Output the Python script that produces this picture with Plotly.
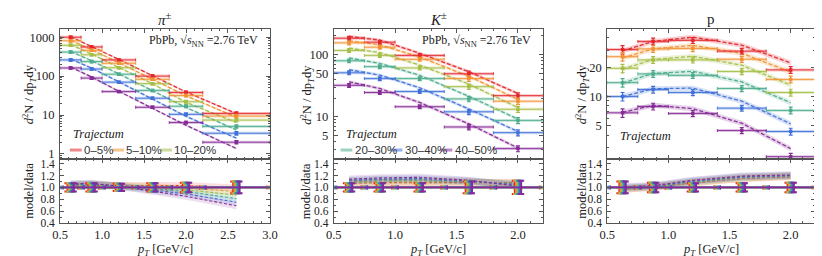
import plotly.graph_objects as go

W, H = 822, 256
SERIF = "Liberation Serif"
SANS = "Liberation Sans"
FRAME = "#555555"
TXT = "#222222"

# ---------------- data ----------------
centralities = ["0–5%", "5–10%", "10–20%", "20–30%", "30–40%", "40–50%"]
cent_colors = ["#e3262c", "#f09232", "#a4be46", "#4cac8c", "#3e70d8", "#862a96"]

pion_bins = [0.5, 0.75, 1.0, 1.4, 1.8, 2.2, 3.0]
pion_yields = [
    [1000, 562, 261, 100, 38.0, 11.0],
    [808, 461, 214, 83, 31.6, 9.4],
    [620, 354, 164, 64, 22.0, 7.4],
    [414, 236, 112, 43, 16.8, 5.1],
    [261, 152, 70, 27, 10.4, 3.4],
    [162, 89, 40, 15.8, 6.4, 2.0],
]
pion_ratio = [
    [1.03, 1.04, 1.03, 1.03, 1.03, 0.99],
    [1.03, 1.04, 1.03, 1.01, 0.99, 0.93],
    [1.04, 1.05, 1.02, 1.00, 0.96, 0.87],
    [1.04, 1.05, 1.02, 0.98, 0.93, 0.81],
    [1.05, 1.06, 1.02, 0.96, 0.89, 0.75],
    [1.06, 1.07, 1.02, 0.94, 0.85, 0.69],
]
pion_rel_err = [0.07, 0.07, 0.06, 0.07, 0.08, 0.10]

kaon_bins = [0.5, 0.75, 1.0, 1.4, 1.8, 2.2]
kaon_yields = [
    [184, 159, 97.5, 49.4, 22.0],
    [155, 132, 84.5, 41.3, 17.9],
    [117, 97.5, 61.3, 30.7, 13.3],
    [79.8, 64.3, 41.3, 19.5, 8.8],
    [51.2, 41.3, 25.6, 12.1, 5.6],
    [32.2, 24.7, 14.6, 6.9, 3.1],
]
kaon_ratio = [
    [1.07, 1.08, 1.08, 1.08, 1.08],
    [1.08, 1.09, 1.09, 1.09, 1.07],
    [1.09, 1.11, 1.11, 1.10, 1.06],
    [1.11, 1.13, 1.13, 1.10, 1.05],
    [1.12, 1.14, 1.15, 1.11, 1.04],
    [1.14, 1.16, 1.17, 1.12, 1.02],
]
kaon_rel_err = [0.07, 0.07, 0.07, 0.10, 0.11]

proton_bins = [0.5, 0.75, 1.0, 1.4, 1.8, 2.2]
proton_yields = [
    [30.4, 36.9, 37.8, 29.3, 18.8],
    [25.7, 30.9, 31.1, 24.2, 15.0],
    [19.5, 23.8, 23.8, 18.1, 11.0],
    [13.9, 17.1, 16.5, 12.1, 7.2],
    [10.0, 11.8, 11.0, 7.6, 4.37],
    [6.8, 7.9, 6.7, 4.47, 2.41],
]
proton_ratio = [
    [0.97, 1.00, 1.08, 1.15, 1.18],
    [0.97, 1.00, 1.08, 1.15, 1.19],
    [0.98, 1.01, 1.09, 1.16, 1.19],
    [0.99, 1.01, 1.10, 1.17, 1.20],
    [1.00, 1.02, 1.11, 1.18, 1.20],
    [1.01, 1.03, 1.12, 1.19, 1.21],
]
proton_rel_err = [0.10, 0.08, 0.07, 0.07, 0.08]

model_rel_band = 0.06

pion_yticks = [1, 10, 100, 1000]
kaon_yticks = [5, 10, 50, 100]
proton_yticks = [5, 10, 20]
ratio_yticks = [0.4, 0.6, 0.8, 1.0, 1.2, 1.4]


# ---------------- helpers ----------------
def rgba(hx, a):
    hx = hx.lstrip("#")
    r, g, b = int(hx[0:2], 16), int(hx[2:4], 16), int(hx[4:6], 16)
    return f"rgba({r},{g},{b},{a})"


def px_x(p):
    return p / W


def px_y(p):
    return 1 - p / H


MAIN_Y = (21, 154)
RATIO_Y = (154, 220)

panels = [
    dict(bins=pion_bins, yields=pion_yields, ratio=pion_ratio, err=pion_rel_err,
         xpx=(45, 259), xr=[0.5, 3.0], yr=[-0.125, 3.2], ytv=pion_yticks,
         title="<i>π</i><sup>±</sup>", ytitle_x=13),
    dict(bins=kaon_bins, yields=kaon_yields, ratio=kaon_ratio, err=kaon_rel_err,
         xpx=(324, 537), xr=[0.5, 2.2], yr=[0.328, 2.406], ytv=kaon_yticks,
         title="<i>K</i><sup>±</sup>", ytitle_x=296),
    dict(bins=proton_bins, yields=proton_yields, ratio=proton_ratio, err=proton_rel_err,
         xpx=(603, 815), xr=[0.5, 2.2], yr=[0.36, 1.69], ytv=proton_yticks,
         title="p", ytitle_x=577),
]

fig = go.Figure()
layout = dict(
    width=W, height=H, margin=dict(l=0, r=0, t=0, b=0),
    paper_bgcolor="white", plot_bgcolor="white", showlegend=False,
    font=dict(family=SERIF, size=12.5, color=TXT),
)
annotations = []
shapes = []

tickfont = dict(family=SERIF, size=12.5, color=TXT)
rtickfont = dict(family=SERIF, size=11.5, color=TXT)


def log_minor():
    vals = []
    for k in range(-1, 4):
        for m in range(2, 10):
            vals.append(m * 10 ** k)
    return vals


for i, P in enumerate(panels):
    xm, ym = f"x{2*i+1}", f"y{2*i+1}"
    xq, yq = f"x{2*i+2}", f"y{2*i+2}"
    xdom = [px_x(P["xpx"][0]), px_x(P["xpx"][1])]
    pxu = (P["xpx"][1] - P["xpx"][0]) / (P["xr"][1] - P["xr"][0])

    common_x = dict(
        domain=xdom, range=P["xr"], showline=True, linecolor=FRAME, linewidth=1,
        mirror="ticks", ticks="inside", ticklen=4, tickcolor=FRAME, tickwidth=1,
        tick0=0.5, dtick=0.5, tickformat=".1f", showgrid=False, zeroline=False,
        minor=dict(ticks="inside", ticklen=2, dtick=0.1, tick0=0.5, tickcolor=FRAME, showgrid=False),
        tickfont=tickfont,
    )
    layout[f"xaxis{2*i+1}"] = dict(common_x, anchor=ym, showticklabels=False)
    layout[f"xaxis{2*i+2}"] = dict(common_x, anchor=yq, showticklabels=True, ticklabelstandoff=0)

    layout[f"yaxis{2*i+1}"] = dict(
        domain=[px_y(MAIN_Y[1]), px_y(MAIN_Y[0])], type="log", range=P["yr"],
        anchor=xm, showline=True, linecolor=FRAME, linewidth=1, mirror="ticks",
        ticks="inside", ticklen=4, tickcolor=FRAME, tickvals=P["ytv"],
        ticktext=[str(v) for v in P["ytv"]], showgrid=False, zeroline=False,
        minor=dict(ticks="inside", ticklen=2, tickvals=log_minor(), tickcolor=FRAME, showgrid=False),
        tickfont=tickfont, ticklabelstandoff=2,
    )
    layout[f"yaxis{2*i+2}"] = dict(
        domain=[px_y(RATIO_Y[1]), px_y(RATIO_Y[0])], range=[0.4, 1.482],
        anchor=xq, showline=True, linecolor=FRAME, linewidth=1, mirror="ticks",
        ticks="inside", ticklen=4, tickcolor=FRAME, tickvals=ratio_yticks,
        tickformat=".1f", showgrid=False, zeroline=False,
        minor=dict(ticks="inside", ticklen=2, dtick=0.1, tick0=0.4, tickcolor=FRAME, showgrid=False),
        tickfont=rtickfont, ticklabelstandoff=2,
    )

    bins = P["bins"]
    centers = [(a + b) / 2 for a, b in zip(bins[:-1], bins[1:])]
    half = [(b - a) / 2 for a, b in zip(bins[:-1], bins[1:])]
    u = model_rel_band

    # model bands and lines (main + ratio)
    for c in range(6):
        col = cent_colors[c]
        model = [y * r for y, r in zip(P["yields"][c], P["ratio"][c])]
        up = [m * (1 + u) for m in model]
        lo = [m * (1 - u) for m in model]
        fig.add_trace(go.Scatter(x=centers + centers[::-1], y=up + lo[::-1], fill="toself",
                                 fillcolor=rgba(col, 0.22), line=dict(width=0), mode="lines",
                                 xaxis=xm, yaxis=ym, hoverinfo="skip"))
        fig.add_trace(go.Scatter(x=centers, y=model, mode="lines",
                                 line=dict(color=rgba(col, 0.95), width=1.3, dash="4px,2px"),
                                 xaxis=xm, yaxis=ym, hoverinfo="skip"))
        rr = P["ratio"][c]
        rup = [r + u for r in rr]
        rlo = [r - u for r in rr]
        fig.add_trace(go.Scatter(x=centers + centers[::-1], y=rup + rlo[::-1], fill="toself",
                                 fillcolor=rgba(col, 0.15), line=dict(width=0), mode="lines",
                                 xaxis=xq, yaxis=yq, hoverinfo="skip"))
        fig.add_trace(go.Scatter(x=centers, y=rr, mode="lines",
                                 line=dict(color=rgba(col, 0.95), width=1.1, dash="3px,2px"),
                                 xaxis=xq, yaxis=yq, hoverinfo="skip"))

    # data
    for c in range(6):
        col = cent_colors[c]
        ys = P["yields"][c]
        fig.add_trace(go.Scatter(x=centers, y=ys, mode="markers",
                                 marker=dict(size=2, color="rgba(0,0,0,0)"),
                                 error_x=dict(type="data", array=half, color=rgba(col, 0.28), thickness=3, width=0),
                                 xaxis=xm, yaxis=ym, hoverinfo="skip"))
        fig.add_trace(go.Scatter(x=centers, y=ys, mode="markers",
                                 marker=dict(symbol="square", size=3.5, color=col),
                                 error_x=dict(type="data", array=half, color=col, thickness=0.9, width=1.5),
                                 error_y=dict(type="data", array=[y * e for y, e in zip(ys, P["err"])],
                                              color=col, thickness=1.2, width=2),
                                 xaxis=xm, yaxis=ym, hoverinfo="skip"))
    for c in range(6):
        col = cent_colors[c]
        off = (c - 2.5) * 1.3 / pxu
        xs = [x + off for x in centers]
        ones = [1.0 for _ in centers]
        fig.add_trace(go.Scatter(x=centers, y=ones, mode="markers",
                                 marker=dict(size=2, color="rgba(0,0,0,0)"),
                                 error_x=dict(type="data", array=half, color=rgba(col, 0.25), thickness=3, width=0),
                                 xaxis=xq, yaxis=yq, hoverinfo="skip"))
        fig.add_trace(go.Scatter(x=xs, y=ones, mode="markers",
                                 marker=dict(symbol="square", size=2.5, color=col),
                                 error_x=dict(type="data", array=half, color=col, thickness=1.1, width=2),
                                 error_y=dict(type="data", array=P["err"], color=col, thickness=2, width=3),
                                 xaxis=xq, yaxis=yq, hoverinfo="skip"))

    xc = (P["xpx"][0] + P["xpx"][1]) / 2
    # titles
    annotations.append(dict(text=P["title"], x=px_x(xc), y=px_y(10), xref="paper", yref="paper",
                            showarrow=False, font=dict(family=SERIF, size=15, color=TXT),
                            xanchor="center", yanchor="middle"))
    annotations.append(dict(text="<i>p</i><sub><i>T</i></sub> [GeV/c]", x=px_x(xc), y=px_y(248),
                            xref="paper", yref="paper", showarrow=False,
                            font=dict(family=SERIF, size=12.5, color=TXT), xanchor="center", yanchor="middle"))
    annotations.append(dict(text="<i>d</i><sup>2</sup>N / dp<sub><i>T</i></sub>dy", x=px_x(P["ytitle_x"]),
                            y=px_y(88), xref="paper", yref="paper", showarrow=False, textangle=-90,
                            font=dict(family=SERIF, size=12.5, color=TXT), xanchor="center", yanchor="middle"))
    annotations.append(dict(text="model/data", x=px_x(P["ytitle_x"]), y=px_y(187), xref="paper", yref="paper",
                            showarrow=False, textangle=-90, font=dict(family=SERIF, size=12.5, color=TXT),
                            xanchor="center", yanchor="middle"))
    annotations.append(dict(text="<i>Trajectum</i>", x=px_x(P["xpx"][0] + 11), y=px_y(128 if i < 2 else 131),
                            xref="paper", yref="paper", showarrow=False,
                            font=dict(family=SERIF, size=12.5, color=TXT), xanchor="left", yanchor="middle"))
    if i < 2:
        annotations.append(dict(text="PbPb, √<i>s</i><sub>NN</sub> =2.76 TeV", x=px_x(P["xpx"][1] - 10),
                                y=px_y(33), xref="paper", yref="paper", showarrow=False,
                                font=dict(family=SERIF, size=12, color=TXT), xanchor="right", yanchor="middle"))

# legend (custom, drawn as shapes + text)
legend_rows = [
    ([55, 98, 147], [0, 1, 2]),
    ([331, 382, 433], [3, 4, 5]),
]
for starts, idx in legend_rows:
    for s, c in zip(starts, idx):
        shapes.append(dict(type="line", xref="paper", yref="paper", x0=px_x(s), x1=px_x(s + 12),
                           y0=px_y(145), y1=px_y(145), line=dict(color=rgba(cent_colors[c], 0.55), width=3)))
        annotations.append(dict(text=centralities[c], x=px_x(s + 12.5), y=px_y(145), xref="paper", yref="paper",
                                showarrow=False, font=dict(family=SANS, size=11.5, color="#333333"),
                                xanchor="left", yanchor="middle"))

layout["annotations"] = annotations
layout["shapes"] = shapes
fig.update_layout(**layout)
fig.write_html("out.html")
